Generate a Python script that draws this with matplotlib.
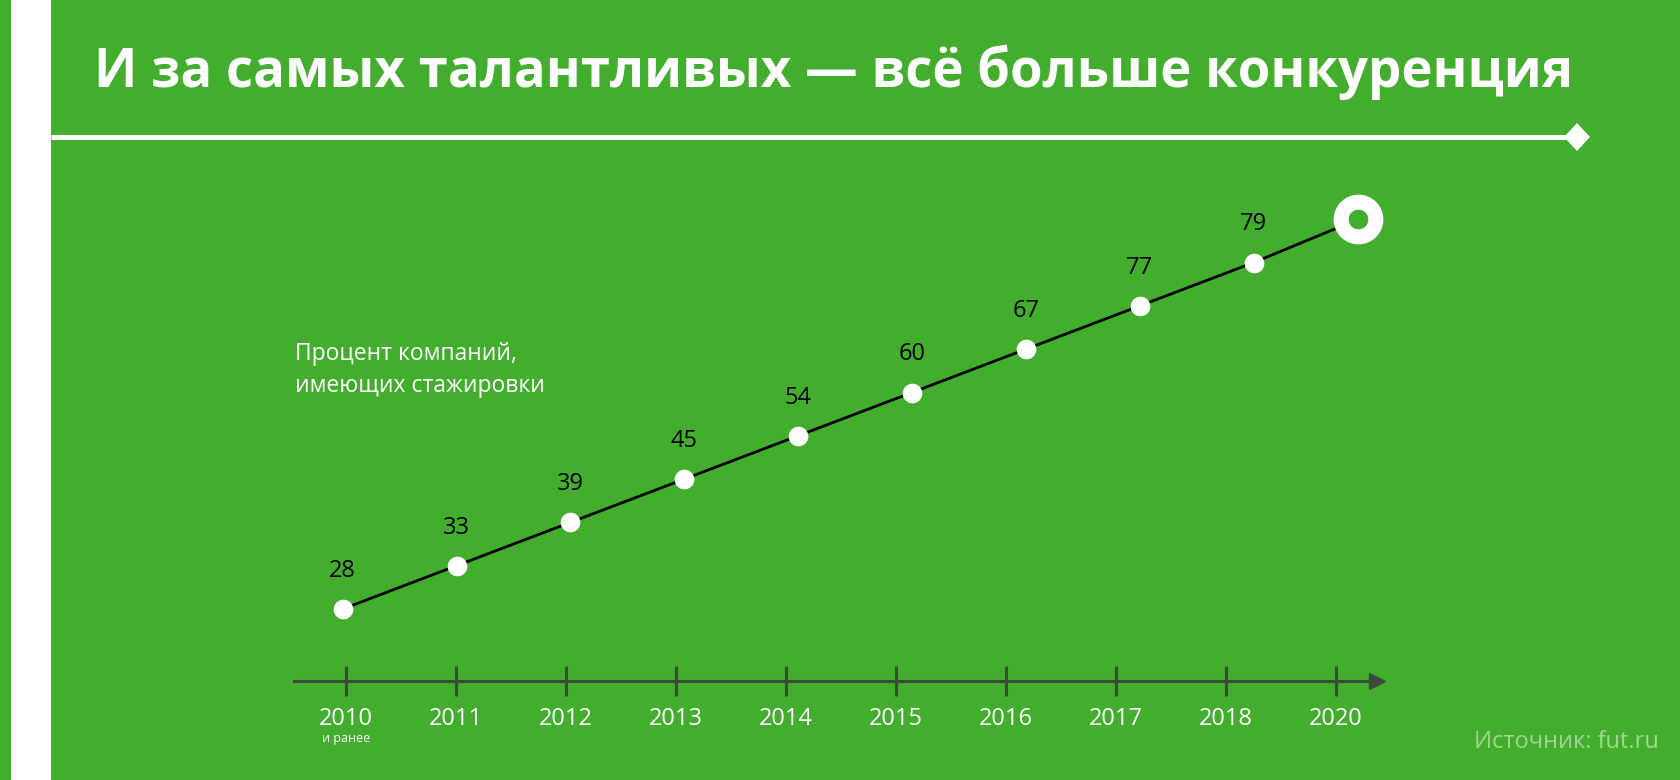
# encoding="utf-8"
# График: процент компаний, имеющих стажировки

import matplotlib
matplotlib.use("Agg")
import matplotlib.pyplot as plt
from matplotlib.patches import Rectangle, Polygon

# данные
years = ["2010", "2011", "2012", "2013", "2014", "2015", "2016", "2017", "2018", "2020"]
percent = [28, 33, 39, 45, 54, 60, 67, 77, 79]
title = "И за самых талантливых — всё больше конкуренция"
note = "Процент компаний,\nимеющих стажировки"
source = "Источник: fut.ru"
first_sub = "и ранее"

# цвета
GREEN = "#43ae2e"
AXIS = "#3b4a39"
SOFT = "#a3d597"

plt.rcParams['font.family'] = ['Open Sans', 'DejaVu Sans']

W, H = 1680, 780
fig = plt.figure(figsize=(16.8, 7.8), dpi=100)
fig.patch.set_facecolor(GREEN)

# фон и оформление в пикселях
bg = fig.add_axes([0, 0, 1, 1])
bg.set_xlim(0, W)
bg.set_ylim(H, 0)
bg.axis('off')
bg.set_facecolor(GREEN)
bg.add_patch(Rectangle((11, 0), 40, H, color="white", lw=0))
bg.plot([51, 1566], [137, 137], color="white", lw=3.6, solid_capstyle="butt")
bg.add_patch(Polygon([(1564, 137), (1577, 123), (1590, 137), (1577, 151)],
                     closed=True, color="white", lw=0))

t = bg.text(94, 87, title, fontsize=40, fontweight='bold', color="white", va="baseline")
renderer = fig.canvas.get_renderer()
w = t.get_window_extent(renderer).width
t.set_fontsize(40 * 1476 / w)

bg.text(295, 370, note, fontsize=16.5, color="white", va="center", linespacing=1.4)
bg.text(1659, 742, source, fontsize=17, color=SOFT, ha="right", va="center")

# сам график
ax = fig.add_axes([0, 0, 1, 1], facecolor="none")
ax.set_xlim(-3.145, 12.127)
ax.set_ylim(-3.949, 14.065)
for s in ["top", "left", "right"]:
    ax.spines[s].set_visible(False)
ax.spines["bottom"].set_position(("data", -1.663))
ax.spines["bottom"].set_bounds(-0.473, 9.31)
ax.spines["bottom"].set_color(AXIS)
ax.spines["bottom"].set_linewidth(2.2)
ax.set_yticks([])
ax.set_xticks(range(len(years)))
ax.set_xticklabels(years, color="white", fontsize=17)
ax.tick_params(axis="x", direction="inout", length=21, width=2.2, color=AXIS, pad=8)
ax.plot([9.31 + 0.063], [-1.663], marker=">", ms=11, color=AXIS, clip_on=False)
ax.text(0, -2.98, first_sub, color="white", fontsize=9, ha="center", va="center")

# точки смещены относительно засечек, как в оригинале
px = [i * 1.035 - 0.03 for i in range(len(years))]
px[-1] = px[-2] + 0.95
py = list(range(len(years)))
ax.plot(px, py, color="black", lw=2, zorder=2)
ax.scatter(px[:len(percent)], py[:len(percent)], s=200, color="white", zorder=3, lw=0)
ax.plot(px[-1], py[-1], marker="o", ms=25, mfc=GREEN, mec="white", mew=10.8, zorder=4)
for x, y, v in zip(px, py, percent):
    ax.annotate(str(v), (x, y), xytext=(0, 27.5), textcoords="offset points",
                ha="center", va="center", fontsize=17, color="black")

fig.savefig("out.png", dpi=100, facecolor=GREEN)
